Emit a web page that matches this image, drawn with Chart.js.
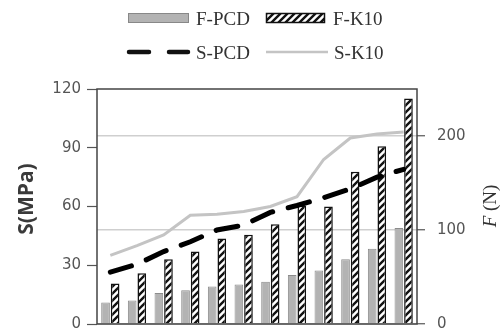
<!DOCTYPE html>
<html>
<head>
<meta charset="utf-8">
<script src="https://cdn.jsdelivr.net/npm/chart.js@4/dist/chart.umd.min.js"></script>
<style>
  html, body { margin: 0; padding: 0; background: #fff; overflow: hidden; }
  #wrap { position: relative; width: 502px; height: 345px; }
</style>
</head>
<body>
<div id="wrap"><canvas id="grafico" width="502" height="345"></canvas></div>
<script>
// dados
const categorias = ['1', '2', '3', '4', '5', '6', '7', '8', '9', '10', '11', '12'];
const fPCD = [23, 25, 33, 36, 40, 42, 45, 52, 57, 69, 80, 102];
const fK10 = [43, 54, 69, 77, 91, 95, 106, 126, 125, 162, 189, 240];
const sPCD = [26.5, 30.5, 37, 42, 48, 50.5, 57, 60.5, 64.5, 69, 75, 79];
const sK10 = [35, 40, 45.5, 55.5, 56, 57.5, 60, 65, 84, 95, 97, 98];
const ticksS = [0, 30, 60, 90, 120];
const ticksF = [0, 100, 200];

const cinza = '#b3b3b3';
const cinzaLinha = '#c4c4c4';

// padrão hachurado das barras F-K10
function criarHachura() {
    const c = document.createElement('canvas');
    const t = 7;
    c.width = t; c.height = t;
    const g = c.getContext('2d');
    g.fillStyle = '#fff';
    g.fillRect(0, 0, t, t);
    g.strokeStyle = '#111';
    g.lineWidth = 2.4;
    g.beginPath();
    g.moveTo(-1, t + 1); g.lineTo(t + 1, -1);
    g.moveTo(-t / 2 - 1, t / 2 + 1); g.lineTo(t / 2 + 1, -t / 2 - 1);
    g.moveTo(t / 2 - 1, t * 1.5 + 1); g.lineTo(t * 1.5 + 1, t / 2 - 1);
    g.stroke();
    return g.createPattern(c, 'repeat');
}
const hachura = criarHachura();

// moldura, legenda e títulos dos eixos
const extras = {
    id: 'extras',
    afterDraw(chart) {
        const ctx = chart.ctx;
        const a = chart.chartArea;
        ctx.save();
        ctx.strokeStyle = '#444';
        ctx.lineWidth = 1.5;
        ctx.strokeRect(a.left, a.top, a.right - a.left, a.bottom - a.top);

        // legenda
        ctx.fillStyle = cinza;
        ctx.strokeStyle = '#888';
        ctx.lineWidth = 1;
        ctx.fillRect(128, 13, 61, 10);
        ctx.strokeRect(128.5, 13.5, 60, 9);
        ctx.fillStyle = hachura;
        ctx.fillRect(266, 13, 59, 10);
        ctx.strokeStyle = '#111';
        ctx.lineWidth = 1.5;
        ctx.strokeRect(266.5, 13.5, 58, 9);

        ctx.setLineDash([20, 20]);
        ctx.lineWidth = 4.5;
        ctx.lineCap = 'round';
        ctx.beginPath();
        ctx.moveTo(129, 52); ctx.lineTo(188, 52);
        ctx.stroke();
        ctx.setLineDash([]);
        ctx.lineCap = 'butt';
        ctx.strokeStyle = cinzaLinha;
        ctx.lineWidth = 2.5;
        ctx.beginPath();
        ctx.moveTo(266, 52); ctx.lineTo(328, 52);
        ctx.stroke();

        ctx.fillStyle = '#333';
        ctx.font = '19px "Liberation Serif"';
        ctx.textBaseline = 'alphabetic';
        ctx.fillText('F-PCD', 196, 25);
        ctx.fillText('F-K10', 333, 25);
        ctx.fillText('S-PCD', 196, 59);
        ctx.fillText('S-K10', 334, 59);

        // título eixo esquerdo
        ctx.translate(33, 199);
        ctx.rotate(-Math.PI / 2);
        ctx.textAlign = 'center';
        ctx.fillStyle = '#3a3a3a';
        ctx.font = 'bold 21px "Open Sans"';
        ctx.fillText('S(MPa)', 0, 0);
        ctx.setTransform(1, 0, 0, 1, 0, 0);

        // título eixo direito
        ctx.translate(496, 206);
        ctx.rotate(-Math.PI / 2);
        ctx.textAlign = 'left';
        ctx.fillStyle = '#333';
        ctx.font = 'italic 19px "Liberation Serif"';
        const w3 = ctx.measureText('F').width;
        ctx.font = '19px "Liberation Serif"';
        const w4 = ctx.measureText(' (N)').width;
        const x = -(w3 + w4) / 2;
        ctx.font = 'italic 19px "Liberation Serif"';
        ctx.fillText('F', x, 0);
        ctx.font = '19px "Liberation Serif"';
        ctx.fillText(' (N)', x + w3, 0);
        ctx.restore();
    }
};

const ctx = document.getElementById('grafico').getContext('2d');
const chart = new Chart(ctx, {
    type: 'bar',
    data: {
        labels: categorias,
        datasets: [
            {
                type: 'line',
                label: 'S-PCD',
                data: sPCD,
                yAxisID: 'yS',
                borderColor: '#000',
                borderWidth: 5,
                borderDash: [22, 16],
                borderCapStyle: 'round',
                pointRadius: 0,
                tension: 0,
                order: 0
            },
            {
                type: 'line',
                label: 'S-K10',
                data: sK10,
                yAxisID: 'yS',
                borderColor: cinzaLinha,
                borderWidth: 3,
                pointRadius: 0,
                tension: 0,
                order: 1
            },
            {
                label: 'F-PCD',
                data: fPCD,
                yAxisID: 'yF',
                backgroundColor: cinza,
                borderColor: '#8c8c8c',
                borderWidth: 1,
                categoryPercentage: 0.72,
                barPercentage: 0.9,
                order: 2
            },
            {
                label: 'F-K10',
                data: fK10,
                yAxisID: 'yF',
                backgroundColor: hachura,
                borderColor: '#111',
                borderWidth: 1.5,
                categoryPercentage: 0.72,
                barPercentage: 0.9,
                order: 2
            }
        ]
    },
    options: {
        responsive: false,
        animation: false,
        devicePixelRatio: 1,
        layout: { padding: { top: 89, left: 0, right: 0, bottom: 18 } },
        plugins: {
            legend: { display: false },
            tooltip: { enabled: false }
        },
        scales: {
            x: { display: false },
            yS: {
                position: 'left',
                min: 0,
                max: 120,
                afterFit: (s) => { s.width = 97; },
                afterBuildTicks: (s) => { s.ticks = ticksS.map(v => ({ value: v })); },
                grid: { drawOnChartArea: false, tickLength: 10, tickColor: '#555', tickWidth: 1.2 },
                border: { display: false },
                ticks: { color: '#555', padding: 6, font: { family: 'DejaVu Sans', size: 15 } }
            },
            yF: {
                position: 'right',
                min: 0,
                max: 250,
                afterFit: (s) => { s.width = 85; },
                afterBuildTicks: (s) => { s.ticks = ticksF.map(v => ({ value: v })); },
                grid: { color: '#cfcfcf', lineWidth: 1.5, tickLength: 8, tickColor: '#555', tickWidth: 1.2 },
                border: { display: false },
                ticks: { color: '#555', padding: 12, font: { family: 'DejaVu Sans', size: 15 } }
            }
        }
    },
    plugins: [extras]
});
</script>
</body>
</html>
